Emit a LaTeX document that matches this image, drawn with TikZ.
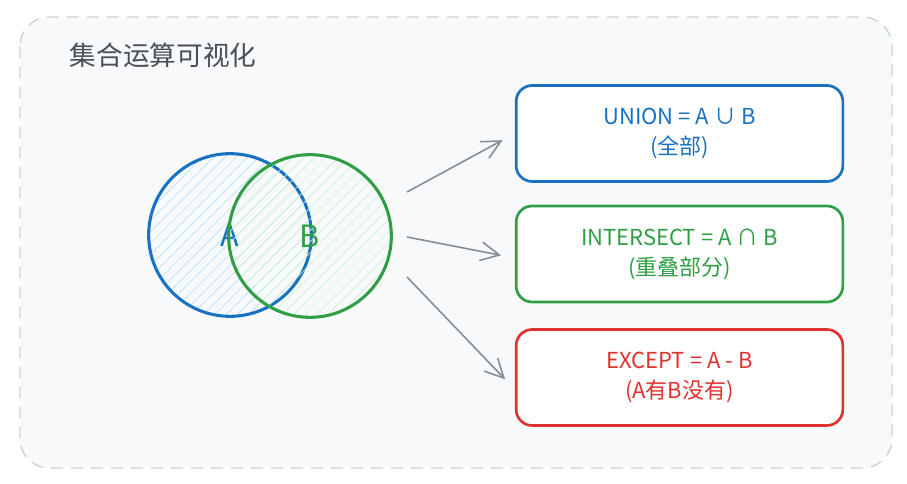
\documentclass[tikz,border=0pt]{standalone}
\usepackage{fontspec}
\setmainfont{Noto Sans CJK SC}
\usepackage{tikz}
\usetikzlibrary{arrows.meta,patterns.meta,positioning}
\definecolor{setblue}{HTML}{1971C2}
\definecolor{setgreen}{HTML}{2F9E44}
\definecolor{setred}{HTML}{E03131}
\definecolor{hatchblue}{HTML}{A5D8FF}
\definecolor{hatchgreen}{HTML}{B2F2BB}
\definecolor{arrowgray}{HTML}{868E96}
\definecolor{titlegray}{HTML}{495057}
\definecolor{framegray}{HTML}{CED4DA}
\definecolor{framefill}{HTML}{F8F9FA}

\begin{document}
\begin{tikzpicture}[x=0.75pt,y=-0.75pt,>={Straight Barb[length=14pt,width=14pt]},
	frame/.style={draw=framegray,fill=framefill,line width=1.1pt,dash pattern=on 9pt off 6pt,rounded corners=22pt},
	setcircle/.style={circle,minimum size=122pt,line width=2.3pt,font=\fontsize{23}{23}\selectfont,
		pattern={Lines[angle=45,distance=6pt,line width=0.5pt]}},
	opbox/.style={draw,fill=white,line width=2pt,rounded corners=12pt,minimum width=245pt,minimum height=72pt,
		align=center,font=\fontsize{16.5}{22.5}\selectfont},
	flow/.style={->,draw=arrowgray,line width=1.2pt,shorten >=10.5pt}]
%		\draw [help lines] (0,0) grid (907,484);
		\fill [white] (0,0) rectangle (907,484);
		\useasboundingbox (0,0) rectangle (907,484);
		\draw [frame] (20,17) rectangle (892,468);
		\node [anchor=west,text=titlegray,font=\fontsize{20}{20}\selectfont] (title) at (65,55) {集合运算可视化};
		\node [setcircle,draw=setblue,pattern color=hatchblue!80,text=setblue] (setA) at (230,235) {A};
		\node [setcircle,draw=setgreen,pattern color=hatchgreen!70,text=setgreen] (setB) at (310,236) {B};
		\node [opbox,draw=setblue,text=setblue] (union) at (679.5,133.5) {UNION = A ∪ B\\(全部)};
		\node [opbox,draw=setgreen,text=setgreen] (inter) at (679.5,254) {INTERSECT = A ∩ B\\(重叠部分)};
		\node [opbox,draw=setred,text=setred] (except) at (679.5,377.5) {EXCEPT = A - B\\(A有B没有)};
		\coordinate (u0) at (407,192);
		\coordinate (i0) at (407,237);
		\coordinate (e0) at (407,277);
		\draw [flow] (u0) -- (union.west);
		\draw [flow] (i0) -- ([yshift=-3pt]inter.west);
		\draw [flow] (e0) -- ([yshift=-9pt]except.west);
\end{tikzpicture}
\end{document}
